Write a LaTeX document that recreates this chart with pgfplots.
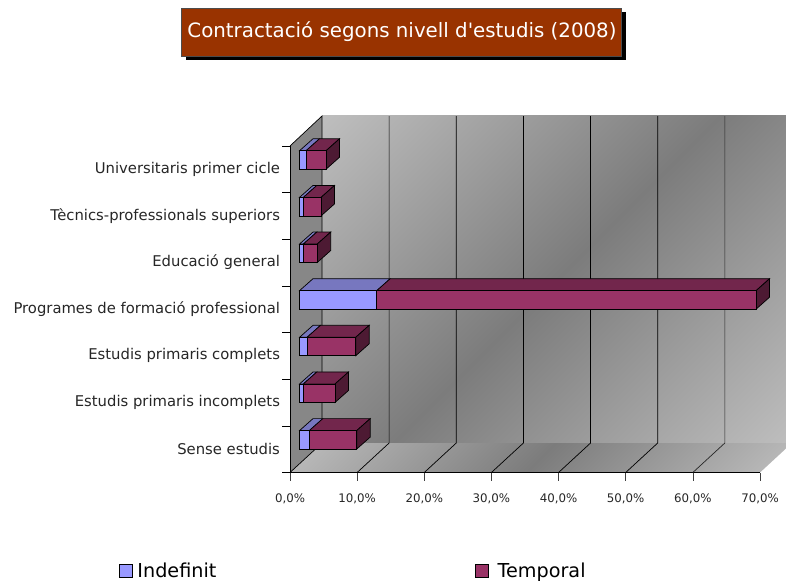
\documentclass[border=0pt]{standalone}
\usepackage{fontspec}
\setmainfont{DejaVu Sans}
\newfontfamily\recta{DejaVu Sans}
\usepackage{pgfplots}
\usepackage{pgfplotstable}
\pgfplotsset{compat=1.18}

\definecolor{indef}{HTML}{9999FF}
\definecolor{indefcima}{HTML}{7777BF}
\definecolor{temp}{HTML}{993366}
\definecolor{tempcima}{HTML}{72264C}
\definecolor{tempcostat}{HTML}{4D1A33}
\definecolor{titol}{HTML}{993300}
\definecolor{clar}{HTML}{BEBEBE}
\definecolor{fosc}{HTML}{7C7C7C}
\pgfdeclareverticalshading{paret}{100bp}{color(0bp)=(clar); color(14.65bp)=(clar); color(50bp)=(fosc); color(85.35bp)=(clar); color(100bp)=(clar)}

% pos = category centre, values in %
\pgfplotstableread{
pos indefinit temporal
0.5 1.46 7.06
1.5 0.57 4.72
2.5 1.12 7.25
3.5 11.50 56.50
4.5 0.57 2.07
5.5 0.57 2.64
6.5 0.97 2.98
}\dades

\begin{document}
\begin{tikzpicture}[x=1pt,y=1pt]
\path[use as bounding box] (0,0) rectangle (786,581);

% title box
\fill[black] (185.5,521) rectangle (625.5,569);
\fill[titol,draw=black!70,line width=0.5pt] (181.7,525) rectangle (621.7,572.7);
\node[text=white,font=\fontsize{19.8}{23}\selectfont] at (402,549) {Contractació segons nivell d{\recta'}estudis (2008)};

% back wall
\begin{scope}
\clip (322,138) rectangle (786,465);
\shade[shading=paret,shading angle=45] (322,138) rectangle (792,465);
\end{scope}
% floor
\begin{scope}
\clip (290,108.5) -- (760,108.5) -- (786,132.5) -- (786,138) -- (322,138) -- cycle;
\shade[shading=paret,shading angle=45] (290,108.5) rectangle (792,138);
\end{scope}
% left wall
\fill[fill=black!47] (290,108.5) -- (322,138) -- (322,465) -- (290,435) -- cycle;
\draw[black,line width=0.7pt] (290,108.5) -- (322,138) -- (322,465) -- (290,435);

\begin{axis}[
  at={(290pt,108.5pt)}, anchor=south west,
  scale only axis, width=470pt, height=326.5pt,
  xmin=0, xmax=70, ymin=0, ymax=7,
  clip=false,
  axis lines=left,
  axis line style={-,line width=0.7pt},
  tick align=outside,
  major tick length=8pt,
  minor tick length=8pt,
  xtick={0,10,...,70},
  ytick={0.5,1.5,...,6.5},
  minor ytick={0,1,...,7},
  major y tick style={draw=none},
  minor y tick style={draw=black,line width=0.7pt},
  x tick style={draw=black!75,line width=0.7pt},
  yticklabels={Sense estudis,Estudis primaris incomplets,Estudis primaris complets,Programes de formació professional,Educació general,Tècnics-professionals superiors,Universitaris primer cicle},
  yticklabel style={font=\fontsize{14.8}{17}\selectfont,text=black!85,xshift=1.5pt},
  xticklabel style={font=\fontsize{11.8}{13}\selectfont,text=black!85,yshift=-10pt},
  xticklabel={\pgfmathprintnumber{\tick}\%},
  /pgf/number format/.cd,use comma,fixed,fixed zerofill,precision=1,assume math mode=true,
]
% grid lines on floor and wall
\addplot[black,line width=0.7pt] coordinates {(10,0)(14.766,0.6325)(14.766,7.643)};
\addplot[black,line width=0.7pt] coordinates {(20,0)(24.766,0.6325)(24.766,7.643)};
\addplot[black,line width=0.7pt] coordinates {(30,0)(34.766,0.6325)(34.766,7.643)};
\addplot[black,line width=0.7pt] coordinates {(40,0)(44.766,0.6325)(44.766,7.643)};
\addplot[black,line width=0.7pt] coordinates {(50,0)(54.766,0.6325)(54.766,7.643)};
\addplot[black!85,line width=0.7pt] coordinates {(60,0)(64.766,0.6325)(64.766,7.643)};

% top and side faces of the bars
\pgfplotsinvokeforeach{0,...,6}{
  \pgfplotstablegetelem{#1}{pos}\of\dades \let\fpos\pgfplotsretval
  \pgfplotstablegetelem{#1}{indefinit}\of\dades \let\find\pgfplotsretval
  \pgfplotstablegetelem{#1}{temporal}\of\dades \let\ftem\pgfplotsretval
  \pgfmathsetmacro\xa{1.415}
  \pgfmathsetmacro\xb{\xa+\find}
  \pgfmathsetmacro\xc{\xb+\ftem}
  \pgfmathsetmacro\xaa{\xa+2.011}
  \pgfmathsetmacro\xbb{\xb+2.011}
  \pgfmathsetmacro\xcc{\xc+2.011}
  \pgfmathsetmacro\ya{\fpos+0.2-0.198}
  \pgfmathsetmacro\yb{\fpos+0.2+0.198}
  \pgfmathsetmacro\yaa{\ya+0.257}
  \pgfmathsetmacro\ybb{\yb+0.257}
  \edef\cares{
    \noexpand\addplot[fill=indefcima,draw=black,line width=0.7pt] coordinates {(\xa,\yb)(\xb,\yb)(\xbb,\ybb)(\xaa,\ybb)} --cycle;
    \noexpand\addplot[fill=tempcima,draw=black,line width=0.7pt] coordinates {(\xb,\yb)(\xc,\yb)(\xcc,\ybb)(\xbb,\ybb)} --cycle;
    \noexpand\addplot[fill=tempcostat,draw=black,line width=0.7pt] coordinates {(\xc,\ya)(\xcc,\yaa)(\xcc,\ybb)(\xc,\yb)} --cycle;
  }
  \cares
}
\end{axis}

% front faces, in the plane of the bars
\begin{axis}[
  at={(299.5pt,117.8pt)}, anchor=south west,
  scale only axis, width=470pt, height=326.5pt,
  xmin=0, xmax=70, ymin=0, ymax=7,
  clip=false,
  axis lines=none,
  xbar stacked,
  bar width=18.5pt,
  legend columns=2,
  legend cell align=left,
  legend style={at={(-0.3915,-0.3286)},anchor=west,draw=none,fill=none,font=\fontsize{19.2}{22}\selectfont,
    /tikz/every even column/.append style={column sep=256.5pt}},
]
\addplot[fill=indef,draw=black,line width=0.7pt,
  legend image code/.code={\draw[fill=indef,draw=black,line width=0.8pt] (0pt,-6.5pt) rectangle (13pt,6.5pt); \path (16pt,0pt);}]
  table[y=pos,x=indefinit] {\dades};
\addlegendentry{Indefinit}
\addplot[fill=temp,draw=black,line width=0.7pt,
  legend image code/.code={\draw[fill=temp,draw=black,line width=0.8pt] (0pt,-6.5pt) rectangle (13pt,6.5pt); \path (20pt,0pt);}]
  table[y=pos,x=temporal] {\dades};
\addlegendentry{Temporal}
\end{axis}
\end{tikzpicture}
\end{document}
